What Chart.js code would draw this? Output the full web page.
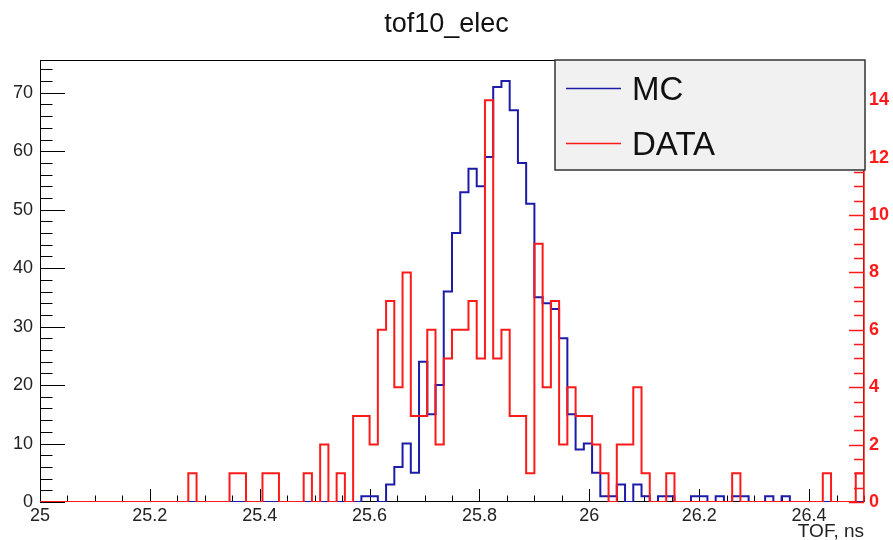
<!DOCTYPE html>
<html>
<head>
<meta charset="utf-8">
<title>tof10_elec</title>
<script src="https://cdn.jsdelivr.net/npm/chart.js@4.4.1/dist/chart.umd.min.js"></script>
<style>
  html, body { margin: 0; padding: 0; background: #fff; }
  #wrap { width: 893px; height: 540px; }
</style>
</head>
<body>
<div id="wrap"><canvas id="tof"></canvas></div>
<script>
'use strict';

// binning of both histograms: 100 bins from 25 to 26.5 ns
const X_MIN = 25.0;
const X_MAX = 26.5;
const BIN_WIDTH = 0.015;

const MC_COUNTS = [
  0, 0, 0, 0, 0, 0, 0, 0, 0, 0,
  0, 0, 0, 0, 0, 0, 0, 0, 0, 0,
  0, 0, 0, 0, 0, 0, 0, 0, 0, 0,
  0, 0, 0, 0, 0, 0, 0, 0, 0, 1,
  1, 0, 3, 6, 10, 5, 24, 15, 20, 36,
  46, 53, 57, 54, 59, 71, 72, 67, 58, 51,
  35, 34, 33, 28, 15, 9, 10, 5, 1, 1,
  3, 0, 3, 1, 0, 1, 1, 0, 0, 1,
  1, 0, 1, 0, 1, 1, 0, 0, 1, 0,
  1, 0, 0, 0, 0, 0, 0, 0, 0, 0,
];

const DATA_COUNTS = [
  0, 0, 0, 0, 0, 0, 0, 0, 0, 0,
  0, 0, 0, 0, 0, 0, 0, 0, 1, 0,
  0, 0, 0, 1, 1, 0, 0, 1, 1, 0,
  0, 0, 1, 0, 2, 0, 1, 0, 3, 3,
  2, 6, 7, 4, 8, 3, 3, 6, 2, 5,
  6, 6, 7, 5, 14, 5, 6, 3, 3, 1,
  9, 4, 7, 2, 4, 3, 3, 2, 1, 0,
  2, 2, 4, 1, 0, 0, 1, 0, 0, 0,
  0, 0, 0, 0, 1, 0, 0, 0, 0, 0,
  0, 0, 0, 0, 0, 1, 0, 0, 0, 1,
];

const X_TICKS = [25, 25.2, 25.4, 25.6, 25.8, 26, 26.2, 26.4];
const Y_TICKS = [0, 10, 20, 30, 40, 50, 60, 70];
const Y2_TICKS = [0, 2, 4, 6, 8, 10, 12, 14];

const Y_MAX = 75.6;   // 1.05 * MC maximum
const Y2_MAX = 15.4;  // 1.1 * DATA maximum

const BLUE = '#1c1ca8';
const RED = '#ff1a1a';
const FONT = '"Liberation Sans", Arial, sans-serif';

// outline points at the low edge of every bin, closed at both ends
function histPoints(counts) {
  const pts = [{ x: X_MIN, y: 0 }];
  counts.forEach((c, i) => pts.push({ x: X_MIN + i * BIN_WIDTH, y: c }));
  pts.push({ x: X_MAX, y: counts[counts.length - 1] });
  pts.push({ x: X_MAX, y: 0 });
  return pts;
}

const fixedTicks = (list) => (scale) => {
  scale.ticks = list.map((v) => ({ value: v }));
};

// ROOT-like frame, inward ticks, red right axis and legend box
const rootLook = {
  id: 'rootLook',
  beforeDatasetsDraw(chart) {
    const { ctx, chartArea: a, scales } = chart;
    ctx.save();
    ctx.strokeStyle = '#000';
    ctx.lineWidth = 1;
    ctx.strokeRect(a.left + 0.5, a.top + 0.5, a.width - 1, a.height - 1);
    ctx.beginPath();
    for (let k = 0; k <= 30; k++) {
      const px = Math.round(scales.x.getPixelForValue(X_MIN + k * 0.05)) + 0.5;
      const len = k % 4 === 0 ? 13 : 6.5;
      ctx.moveTo(px, a.bottom);
      ctx.lineTo(px, a.bottom - len);
    }
    for (let v = 0; v <= Y_MAX; v += 2) {
      const py = Math.round(scales.y.getPixelForValue(v)) + 0.5;
      const len = v % 10 === 0 ? 25 : 12.5;
      ctx.moveTo(a.left, py);
      ctx.lineTo(a.left + len, py);
    }
    ctx.stroke();
    ctx.restore();
  },
  afterDatasetsDraw(chart) {
    const { ctx, chartArea: a, scales } = chart;
    ctx.save();
    ctx.strokeStyle = RED;
    ctx.lineWidth = 1.5;
    ctx.beginPath();
    ctx.moveTo(a.right, a.bottom);
    ctx.lineTo(a.right, a.top);
    for (let k = 0; k * 0.5 <= Y2_MAX; k++) {
      const py = Math.round(scales.y2.getPixelForValue(k * 0.5)) + 0.5;
      const len = k % 4 === 0 ? 15 : 10;
      ctx.moveTo(a.right, py);
      ctx.lineTo(a.right - len, py);
    }
    ctx.stroke();
    ctx.restore();
  },
  afterDraw(chart) {
    const { ctx, chartArea: a } = chart;
    const bx = a.right - 309;
    const by = a.top;
    const bw = 310;
    const bh = 110;
    ctx.save();
    ctx.fillStyle = '#f1f1f1';
    ctx.fillRect(bx, by, bw, bh);
    ctx.strokeStyle = '#333';
    ctx.lineWidth = 1.5;
    ctx.strokeRect(bx, by, bw, bh);
    ctx.font = `33px ${FONT}`;
    ctx.textBaseline = 'alphabetic';
    chart.data.datasets.forEach((ds, i) => {
      const cy = by + 28 + i * 55;
      ctx.strokeStyle = ds.borderColor;
      ctx.lineWidth = 1.5;
      ctx.beginPath();
      ctx.moveTo(bx + 11, cy + 0.5);
      ctx.lineTo(bx + 66, cy + 0.5);
      ctx.stroke();
      ctx.fillStyle = '#111';
      ctx.fillText(ds.label, bx + 77, cy + 12);
    });
    ctx.restore();
  },
};

const tickFont = { family: FONT, size: 18 };

new Chart(document.getElementById('tof'), {
  type: 'line',
  data: {
    datasets: [
      {
        label: 'MC',
        data: histPoints(MC_COUNTS),
        yAxisID: 'y',
        borderColor: BLUE,
        borderWidth: 2,
        stepped: true,
        pointRadius: 0,
        fill: false,
        order: 1,
      },
      {
        label: 'DATA',
        data: histPoints(DATA_COUNTS),
        yAxisID: 'y2',
        borderColor: RED,
        borderWidth: 2,
        stepped: true,
        pointRadius: 0,
        fill: false,
        order: 0,
      },
    ],
  },
  options: {
    responsive: true,
    maintainAspectRatio: false,
    animation: false,
    layout: { padding: 0 },
    plugins: {
      legend: { display: false },
      tooltip: { enabled: false },
      title: {
        display: true,
        text: 'tof10_elec',
        color: '#111',
        font: { family: FONT, size: 27, weight: 'normal', lineHeight: 1.2 },
        padding: { top: 8, bottom: 19.6 },
      },
    },
    scales: {
      x: {
        type: 'linear',
        min: X_MIN,
        max: X_MAX,
        afterBuildTicks: fixedTicks(X_TICKS),
        afterFit: (s) => { s.height = 38; },
        grid: { display: false, drawTicks: false },
        border: { display: false },
        ticks: {
          callback: (v) => String(v),
          color: '#222',
          font: tickFont,
          padding: 3,
          maxRotation: 0,
          autoSkip: false,
        },
        title: {
          display: true,
          text: 'TOF, ns',
          align: 'end',
          color: '#222',
          font: { family: FONT, size: 19, lineHeight: 0.9 },
          padding: 0,
        },
      },
      y: {
        type: 'linear',
        position: 'left',
        min: 0,
        max: Y_MAX,
        afterBuildTicks: fixedTicks(Y_TICKS),
        afterFit: (s) => { s.width = 40; },
        grid: { display: false, drawTicks: false },
        border: { display: false },
        ticks: { color: '#222', font: tickFont, padding: 7 },
      },
      y2: {
        type: 'linear',
        position: 'right',
        min: 0,
        max: Y2_MAX,
        afterBuildTicks: fixedTicks(Y2_TICKS),
        afterFit: (s) => { s.width = 29; },
        grid: { display: false, drawTicks: false },
        border: { display: false },
        ticks: {
          color: RED,
          font: { family: FONT, size: 18, weight: 'bold' },
          padding: 5,
        },
      },
    },
  },
  plugins: [rootLook],
});
</script>
</body>
</html>
